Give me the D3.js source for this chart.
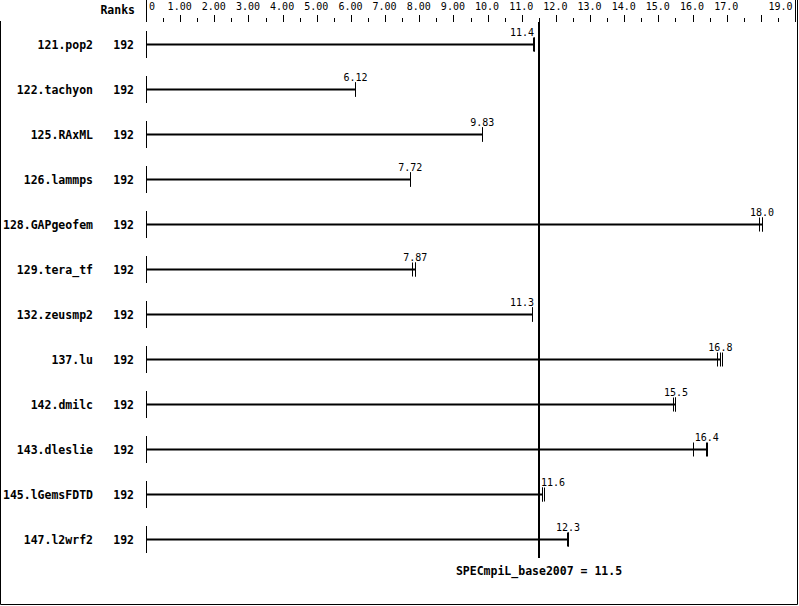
<!DOCTYPE html>
<html><head><meta charset="utf-8">
<script src="https://cdn.jsdelivr.net/npm/d3@7"></script>
<style>body{margin:0;background:#fff} svg{display:block}</style>
</head><body>
<script>
const benchmarks = ["121.pop2","122.tachyon","125.RAxML","126.lammps","128.GAPgeofem","129.tera_tf","132.zeusmp2","137.lu","142.dmilc","143.dleslie","145.lGemsFDTD","147.l2wrf2"];
const ranks = [192,192,192,192,192,192,192,192,192,192,192,192];
const medians = [11.4,6.12,9.83,7.72,18.0,7.87,11.3,16.8,15.5,16.4,11.6,12.3];
const run1 = [11.34,6.12,9.83,7.72,17.96,7.80,11.29,16.71,15.44,16.00,11.60,12.33];
const run2 = [11.35,6.12,9.83,7.72,18.02,7.87,11.30,16.80,15.50,16.40,11.60,12.34];
const run3 = [11.36,6.13,9.84,7.73,18.02,7.87,11.31,16.87,15.50,16.42,11.66,12.35];
const baseValue = 11.5;
const baseLabel = "SPECmpiL_base2007 = 11.5";
const majorTicks = [0,1,2,3,4,5,6,7,8,9,10,11,12,13,14,15,16,17,18,19];
const minorTicks = [0.5,1.5,2.5,3.5,4.5,5.5,6.5,7.5,8.5,9.5,10.5,11.5,12.5,13.5,14.5,15.5,16.5,17.5,18.5];
const tickLabels = ["0","1.00","2.00","3.00","4.00","5.00","6.00","7.00","8.00","9.00","10.0","11.0","12.0","13.0","14.0","15.0","16.0","17.0","","19.0"];

const W = 799, H = 606;
const svg = d3.select("body").append("svg").attr("width", W).attr("height", H)
  .style("font-family", "'DejaVu Sans Mono', 'Liberation Mono', monospace");

const x = d3.scaleLinear().domain([0, 19]).range([146.5, 795.5]);
const y = d3.scalePoint().domain(benchmarks).range([44.5, 539.5]);
const px = v => Math.round(x(v) - 0.5) + 0.5;

// frame
svg.append("path").attr("d", `M0.5,21 V604.5 H797.5 V0`).attr("fill","none").attr("stroke","#000").attr("stroke-width",1);

// top axis ticks
const ax = svg.append("g");
ax.selectAll("line.maj").data(majorTicks).join("line")
  .attr("x1", px).attr("x2", px)
  .attr("y1", d => (d === 0 || d === 19) ? 0 : 15).attr("y2", 22)
  .attr("stroke", "#000").attr("stroke-width", 1);
ax.selectAll("line.min").data(minorTicks).join("line")
  .attr("x1", px).attr("x2", px)
  .attr("y1", 18).attr("y2", 22)
  .attr("stroke", "#000").attr("stroke-width", 1);
ax.selectAll("text").data(majorTicks).join("text")
  .attr("x", d => d === 0 ? x(d) + 2.5 : (d === 19 ? x(d) - 3 : x(d) - 1))
  .attr("y", 10)
  .attr("text-anchor", d => d === 0 ? "start" : (d === 19 ? "end" : "middle"))
  .attr("font-size", 10)
  .text((d, i) => tickLabels[i]);

svg.append("text").attr("x", 135).attr("y", 14).attr("text-anchor", "end")
  .attr("font-size", 11.5).attr("font-weight", "bold").text("Ranks");

// rows
const rows = svg.append("g").selectAll("g").data(benchmarks).join("g");
rows.append("text").attr("x", 93).attr("y", d => y(d) + 4).attr("text-anchor", "end")
  .attr("font-size", 11.5).attr("font-weight", "bold").text(d => d);
rows.append("text").attr("x", 134).attr("y", d => y(d) + 4).attr("text-anchor", "end")
  .attr("font-size", 11.5).attr("font-weight", "bold").text((d, i) => ranks[i]);
// start tick
rows.append("line").attr("x1", px(0)).attr("x2", px(0))
  .attr("y1", d => y(d) - 13.5).attr("y2", d => y(d) + 13.5)
  .attr("stroke", "#000").attr("stroke-width", 1);
// bar (to the median run)
rows.append("line").attr("x1", x(0)).attr("x2", (d, i) => x(run2[i]))
  .attr("y1", d => y(d)).attr("y2", d => y(d))
  .attr("stroke", "#000").attr("stroke-width", 2);
// run ticks
[run1, run2, run3].forEach(run => {
  rows.append("line")
    .attr("x1", (d, i) => px(run[i])).attr("x2", (d, i) => px(run[i]))
    .attr("y1", d => y(d) - 7).attr("y2", d => y(d) + 7)
    .attr("stroke", "#000").attr("stroke-width", 1);
});
// value labels
const bx = Math.round(x(baseValue));
const lw = 24;
rows.append("text")
  .attr("x", (d, i) => {
    const c = x(run2[i]);
    let s = c - lw / 2;
    if (s < bx + 2 && s + lw > bx - 3) {
      s = run2[i] < baseValue ? bx - 5 - lw : bx + 2;
    }
    return s;
  })
  .attr("y", d => y(d) - 8.5)
  .attr("font-size", 10)
  .text((d, i) => d3.format(".3r")(medians[i]));

// base line
svg.append("line").attr("x1", bx).attr("x2", bx).attr("y1", 22).attr("y2", 558)
  .attr("stroke", "#000").attr("stroke-width", 2);
svg.append("text").attr("x", bx).attr("y", 575).attr("text-anchor", "middle")
  .attr("font-size", 11.5).attr("font-weight", "bold").text(baseLabel);
</script>
</body></html>
